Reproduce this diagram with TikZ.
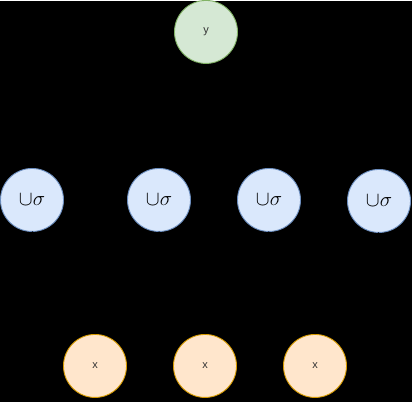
\documentclass[tikz,border=0pt]{standalone}
\usepackage{fontspec}
\setmainfont{Liberation Sans}
\usepackage{amsmath,amssymb}
\usetikzlibrary{arrows}
\definecolor{ygreenfill}{HTML}{D5E8D4}
\definecolor{ygreendraw}{HTML}{82B366}
\definecolor{hbluefill}{HTML}{DAE8FC}
\definecolor{hbluedraw}{HTML}{6C8EBF}
\definecolor{xorangefill}{HTML}{FFE6CC}
\definecolor{xorangedraw}{HTML}{D79B00}
\definecolor{labelgrey}{HTML}{333333}

\begin{document}
\begin{tikzpicture}[x=1pt,y=1pt,
		unit/.style={circle,minimum size=63pt,inner sep=0pt,line width=0.9pt,font=\fontsize{11}{13}\selectfont,text=labelgrey},
		outunit/.style={unit,fill=ygreenfill,draw=ygreendraw},
		hidunit/.style={unit,fill=hbluefill,draw=hbluedraw,text=black},
		inunit/.style={unit,fill=xorangefill,draw=xorangedraw},
		link/.style={-latex,black,line width=0.8pt}]
			\fill[black] (0,0) rectangle (412,401);
			\node[outunit] (y) at (206,370) {y};
			\node[hidunit] (h1) at (32,202) {\huge$\cup\sigma$};
			\node[hidunit] (h2) at (159,202) {\huge$\cup\sigma$};
			\node[hidunit] (h3) at (269,202) {\huge$\cup\sigma$};
			\node[hidunit] (h4) at (379,201) {\huge$\cup\sigma$};
			\node[inunit] (x1) at (95,36) {x};
			\node[inunit] (x2) at (205,36) {x};
			\node[inunit] (x3) at (315,36) {x};
			\foreach \h in {h1,h2,h3,h4}{
				\draw[link] (y) -- (\h);
				\foreach \x in {x1,x2,x3}
					\draw[link] (\h.south) -- (\x.north);
			}
		\end{tikzpicture}
\end{document}
